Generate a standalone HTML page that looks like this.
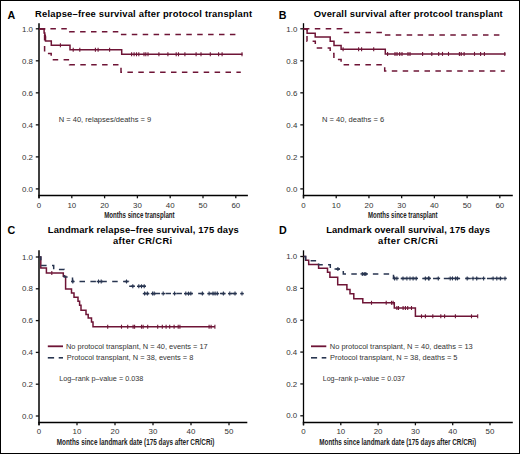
<!DOCTYPE html><html><head><meta charset="utf-8"><style>html,body{margin:0;padding:0;background:#fff;}svg{display:block;} text{font-family:"Liberation Sans", sans-serif;}</style></head><body>
<svg width="520" height="454" viewBox="0 0 520 454">
<rect x="0" y="0" width="520" height="454" fill="#fff"/>
<rect x="0.5" y="0.5" width="519" height="453" fill="none" stroke="#000" stroke-width="1"/>
<text x="7.5" y="18.6" font-size="10.7" text-anchor="start" font-weight="bold" fill="#000">A</text>
<text x="35.1" y="17.2" font-size="9.4" text-anchor="start" font-weight="bold" fill="#000" textLength="217" lengthAdjust="spacing">Relapse–free survival after protocol transplant</text>
<line x1="39.0" y1="23.2" x2="39.0" y2="198.3" stroke="#000" stroke-width="1.5"/>
<line x1="38.3" y1="195.5" x2="247.9" y2="195.5" stroke="#000" stroke-width="1.4"/>
<line x1="35.8" y1="28.80" x2="39.0" y2="28.80" stroke="#111" stroke-width="1.3"/>
<text x="33.0" y="31.80" font-size="7.9" text-anchor="end" font-weight="normal" fill="#333">1.0</text>
<line x1="35.8" y1="60.82" x2="39.0" y2="60.82" stroke="#111" stroke-width="1.3"/>
<text x="33.0" y="63.82" font-size="7.9" text-anchor="end" font-weight="normal" fill="#333">0.8</text>
<line x1="35.8" y1="92.84" x2="39.0" y2="92.84" stroke="#111" stroke-width="1.3"/>
<text x="33.0" y="95.84" font-size="7.9" text-anchor="end" font-weight="normal" fill="#333">0.6</text>
<line x1="35.8" y1="124.86" x2="39.0" y2="124.86" stroke="#111" stroke-width="1.3"/>
<text x="33.0" y="127.86" font-size="7.9" text-anchor="end" font-weight="normal" fill="#333">0.4</text>
<line x1="35.8" y1="156.88" x2="39.0" y2="156.88" stroke="#111" stroke-width="1.3"/>
<text x="33.0" y="159.88" font-size="7.9" text-anchor="end" font-weight="normal" fill="#333">0.2</text>
<line x1="35.8" y1="188.90" x2="39.0" y2="188.90" stroke="#111" stroke-width="1.3"/>
<text x="33.0" y="191.90" font-size="7.9" text-anchor="end" font-weight="normal" fill="#333">0.0</text>
<line x1="39.00" y1="195.5" x2="39.00" y2="198.3" stroke="#111" stroke-width="1.3"/>
<text x="39.00" y="207.50" font-size="7.9" text-anchor="middle" font-weight="normal" fill="#333">0</text>
<line x1="71.80" y1="195.5" x2="71.80" y2="198.3" stroke="#111" stroke-width="1.3"/>
<text x="71.80" y="207.50" font-size="7.9" text-anchor="middle" font-weight="normal" fill="#333">10</text>
<line x1="104.60" y1="195.5" x2="104.60" y2="198.3" stroke="#111" stroke-width="1.3"/>
<text x="104.60" y="207.50" font-size="7.9" text-anchor="middle" font-weight="normal" fill="#333">20</text>
<line x1="137.40" y1="195.5" x2="137.40" y2="198.3" stroke="#111" stroke-width="1.3"/>
<text x="137.40" y="207.50" font-size="7.9" text-anchor="middle" font-weight="normal" fill="#333">30</text>
<line x1="170.20" y1="195.5" x2="170.20" y2="198.3" stroke="#111" stroke-width="1.3"/>
<text x="170.20" y="207.50" font-size="7.9" text-anchor="middle" font-weight="normal" fill="#333">40</text>
<line x1="203.00" y1="195.5" x2="203.00" y2="198.3" stroke="#111" stroke-width="1.3"/>
<text x="203.00" y="207.50" font-size="7.9" text-anchor="middle" font-weight="normal" fill="#333">50</text>
<line x1="235.80" y1="195.5" x2="235.80" y2="198.3" stroke="#111" stroke-width="1.3"/>
<text x="235.80" y="207.50" font-size="7.9" text-anchor="middle" font-weight="normal" fill="#333">60</text>
<text x="104.2" y="217.5" font-size="9.8" text-anchor="start" font-weight="bold" fill="#222" textLength="70.4" lengthAdjust="spacingAndGlyphs">Months since transplant</text>
<text x="58.7" y="121.5" font-size="7.5" text-anchor="start" font-weight="normal" fill="#333" textLength="92.5" lengthAdjust="spacingAndGlyphs">N = 40, relapses/deaths = 9</text>
<path d="M39.0,28.8 H69.7 V31.8 H120.3 V34.6 H236" fill="none" stroke="#6e1436" stroke-width="1.5" stroke-dasharray="5.5 5.40" stroke-dashoffset="10.40"/>
<path d="M39.0,28.8 H44.6 V53.6 H51.2 V59.7 H69.6 V64.8 H121 V72.2 H240.8" fill="none" stroke="#6e1436" stroke-width="1.5" stroke-dasharray="5.5 5.40" stroke-dashoffset="9.90"/>
<path d="M39.0,28.9 H44.1 V32.9 H44.8 V36.9 H45.5 V41.1 H51.3 V45.3 H70 V49.8 H121.7 V54.3 H242.5" fill="none" stroke="#6e1436" stroke-width="1.5"/>
<line x1="45.5" y1="34.5" x2="45.5" y2="38.5" stroke="#6e1436" stroke-width="1.1"/>
<line x1="60.4" y1="43.3" x2="60.4" y2="47.3" stroke="#6e1436" stroke-width="1.1"/>
<line x1="73.2" y1="47.8" x2="73.2" y2="51.8" stroke="#6e1436" stroke-width="1.1"/>
<line x1="79.8" y1="47.8" x2="79.8" y2="51.8" stroke="#6e1436" stroke-width="1.1"/>
<line x1="95.4" y1="47.8" x2="95.4" y2="51.8" stroke="#6e1436" stroke-width="1.1"/>
<line x1="98.1" y1="47.8" x2="98.1" y2="51.8" stroke="#6e1436" stroke-width="1.1"/>
<line x1="109.6" y1="47.8" x2="109.6" y2="51.8" stroke="#6e1436" stroke-width="1.1"/>
<line x1="131.6" y1="52.3" x2="131.6" y2="56.3" stroke="#6e1436" stroke-width="1.1"/>
<line x1="134.1" y1="52.3" x2="134.1" y2="56.3" stroke="#6e1436" stroke-width="1.1"/>
<line x1="136.5" y1="52.3" x2="136.5" y2="56.3" stroke="#6e1436" stroke-width="1.1"/>
<line x1="138.8" y1="52.3" x2="138.8" y2="56.3" stroke="#6e1436" stroke-width="1.1"/>
<line x1="144" y1="52.3" x2="144" y2="56.3" stroke="#6e1436" stroke-width="1.1"/>
<line x1="145.8" y1="52.3" x2="145.8" y2="56.3" stroke="#6e1436" stroke-width="1.1"/>
<line x1="148" y1="52.3" x2="148" y2="56.3" stroke="#6e1436" stroke-width="1.1"/>
<line x1="158.9" y1="52.3" x2="158.9" y2="56.3" stroke="#6e1436" stroke-width="1.1"/>
<line x1="167.9" y1="52.3" x2="167.9" y2="56.3" stroke="#6e1436" stroke-width="1.1"/>
<line x1="176.2" y1="52.3" x2="176.2" y2="56.3" stroke="#6e1436" stroke-width="1.1"/>
<line x1="178.5" y1="52.3" x2="178.5" y2="56.3" stroke="#6e1436" stroke-width="1.1"/>
<line x1="184.9" y1="52.3" x2="184.9" y2="56.3" stroke="#6e1436" stroke-width="1.1"/>
<line x1="196.1" y1="52.3" x2="196.1" y2="56.3" stroke="#6e1436" stroke-width="1.1"/>
<line x1="201" y1="52.3" x2="201" y2="56.3" stroke="#6e1436" stroke-width="1.1"/>
<line x1="210.3" y1="52.3" x2="210.3" y2="56.3" stroke="#6e1436" stroke-width="1.1"/>
<line x1="218.6" y1="52.3" x2="218.6" y2="56.3" stroke="#6e1436" stroke-width="1.1"/>
<line x1="222.1" y1="52.3" x2="222.1" y2="56.3" stroke="#6e1436" stroke-width="1.1"/>
<line x1="242" y1="52.3" x2="242" y2="56.3" stroke="#6e1436" stroke-width="1.1"/>
<text x="278.7" y="18.6" font-size="10.7" text-anchor="start" font-weight="bold" fill="#000">B</text>
<text x="313.8" y="17.2" font-size="9.4" text-anchor="start" font-weight="bold" fill="#000" textLength="188.9" lengthAdjust="spacing">Overall survival after protcool transplant</text>
<line x1="303.5" y1="23.2" x2="303.5" y2="198.3" stroke="#000" stroke-width="1.3"/>
<line x1="302.8" y1="195.5" x2="512.8" y2="195.5" stroke="#000" stroke-width="1.4"/>
<line x1="300.3" y1="28.80" x2="303.5" y2="28.80" stroke="#111" stroke-width="1.3"/>
<text x="297.3" y="31.80" font-size="7.9" text-anchor="end" font-weight="normal" fill="#333">1.0</text>
<line x1="300.3" y1="60.82" x2="303.5" y2="60.82" stroke="#111" stroke-width="1.3"/>
<text x="297.3" y="63.82" font-size="7.9" text-anchor="end" font-weight="normal" fill="#333">0.8</text>
<line x1="300.3" y1="92.84" x2="303.5" y2="92.84" stroke="#111" stroke-width="1.3"/>
<text x="297.3" y="95.84" font-size="7.9" text-anchor="end" font-weight="normal" fill="#333">0.6</text>
<line x1="300.3" y1="124.86" x2="303.5" y2="124.86" stroke="#111" stroke-width="1.3"/>
<text x="297.3" y="127.86" font-size="7.9" text-anchor="end" font-weight="normal" fill="#333">0.4</text>
<line x1="300.3" y1="156.88" x2="303.5" y2="156.88" stroke="#111" stroke-width="1.3"/>
<text x="297.3" y="159.88" font-size="7.9" text-anchor="end" font-weight="normal" fill="#333">0.2</text>
<line x1="300.3" y1="188.90" x2="303.5" y2="188.90" stroke="#111" stroke-width="1.3"/>
<text x="297.3" y="191.90" font-size="7.9" text-anchor="end" font-weight="normal" fill="#333">0.0</text>
<line x1="303.50" y1="195.5" x2="303.50" y2="198.3" stroke="#111" stroke-width="1.3"/>
<text x="303.50" y="207.50" font-size="7.9" text-anchor="middle" font-weight="normal" fill="#333">0</text>
<line x1="336.22" y1="195.5" x2="336.22" y2="198.3" stroke="#111" stroke-width="1.3"/>
<text x="336.22" y="207.50" font-size="7.9" text-anchor="middle" font-weight="normal" fill="#333">10</text>
<line x1="368.94" y1="195.5" x2="368.94" y2="198.3" stroke="#111" stroke-width="1.3"/>
<text x="368.94" y="207.50" font-size="7.9" text-anchor="middle" font-weight="normal" fill="#333">20</text>
<line x1="401.66" y1="195.5" x2="401.66" y2="198.3" stroke="#111" stroke-width="1.3"/>
<text x="401.66" y="207.50" font-size="7.9" text-anchor="middle" font-weight="normal" fill="#333">30</text>
<line x1="434.38" y1="195.5" x2="434.38" y2="198.3" stroke="#111" stroke-width="1.3"/>
<text x="434.38" y="207.50" font-size="7.9" text-anchor="middle" font-weight="normal" fill="#333">40</text>
<line x1="467.10" y1="195.5" x2="467.10" y2="198.3" stroke="#111" stroke-width="1.3"/>
<text x="467.10" y="207.50" font-size="7.9" text-anchor="middle" font-weight="normal" fill="#333">50</text>
<line x1="499.82" y1="195.5" x2="499.82" y2="198.3" stroke="#111" stroke-width="1.3"/>
<text x="499.82" y="207.50" font-size="7.9" text-anchor="middle" font-weight="normal" fill="#333">60</text>
<text x="367.9" y="217.5" font-size="9.8" text-anchor="start" font-weight="bold" fill="#222" textLength="69.7" lengthAdjust="spacingAndGlyphs">Months since transplant</text>
<text x="321.9" y="121.5" font-size="7.5" text-anchor="start" font-weight="normal" fill="#333" textLength="62.3" lengthAdjust="spacingAndGlyphs">N = 40, deaths = 6</text>
<path d="M303.5,28.8 H341.6 V32.6 H383.8 V35 H499.6" fill="none" stroke="#6e1436" stroke-width="1.5" stroke-dasharray="5.5 5.40" stroke-dashoffset="10.50"/>
<path d="M303.5,28.8 H307 V41.2 H315.3 V48 H330.2 V53.5 H333.9 V59.5 H341.1 V64.7 H384.7 V71 H504.8" fill="none" stroke="#6e1436" stroke-width="1.5" stroke-dasharray="5.5 5.40" stroke-dashoffset="0.30"/>
<path d="M303.5,28.9 H307.1 V33.3 H315.2 V37.1 H330.2 V41.3 H334 V45.4 H341.1 V49.3 H385.3 V53.9 H505.6" fill="none" stroke="#6e1436" stroke-width="1.5"/>
<line x1="343.1" y1="47.3" x2="343.1" y2="51.3" stroke="#6e1436" stroke-width="1.1"/>
<line x1="358.6" y1="47.3" x2="358.6" y2="51.3" stroke="#6e1436" stroke-width="1.1"/>
<line x1="361.6" y1="47.3" x2="361.6" y2="51.3" stroke="#6e1436" stroke-width="1.1"/>
<line x1="373.7" y1="47.3" x2="373.7" y2="51.3" stroke="#6e1436" stroke-width="1.1"/>
<line x1="387.6" y1="51.9" x2="387.6" y2="55.9" stroke="#6e1436" stroke-width="1.1"/>
<line x1="395" y1="51.9" x2="395" y2="55.9" stroke="#6e1436" stroke-width="1.1"/>
<line x1="397" y1="51.9" x2="397" y2="55.9" stroke="#6e1436" stroke-width="1.1"/>
<line x1="399.7" y1="51.9" x2="399.7" y2="55.9" stroke="#6e1436" stroke-width="1.1"/>
<line x1="402" y1="51.9" x2="402" y2="55.9" stroke="#6e1436" stroke-width="1.1"/>
<line x1="408" y1="51.9" x2="408" y2="55.9" stroke="#6e1436" stroke-width="1.1"/>
<line x1="410" y1="51.9" x2="410" y2="55.9" stroke="#6e1436" stroke-width="1.1"/>
<line x1="422.6" y1="51.9" x2="422.6" y2="55.9" stroke="#6e1436" stroke-width="1.1"/>
<line x1="431.8" y1="51.9" x2="431.8" y2="55.9" stroke="#6e1436" stroke-width="1.1"/>
<line x1="438.7" y1="51.9" x2="438.7" y2="55.9" stroke="#6e1436" stroke-width="1.1"/>
<line x1="442.5" y1="51.9" x2="442.5" y2="55.9" stroke="#6e1436" stroke-width="1.1"/>
<line x1="448.5" y1="51.9" x2="448.5" y2="55.9" stroke="#6e1436" stroke-width="1.1"/>
<line x1="459.4" y1="51.9" x2="459.4" y2="55.9" stroke="#6e1436" stroke-width="1.1"/>
<line x1="461.2" y1="51.9" x2="461.2" y2="55.9" stroke="#6e1436" stroke-width="1.1"/>
<line x1="464.1" y1="51.9" x2="464.1" y2="55.9" stroke="#6e1436" stroke-width="1.1"/>
<line x1="474.5" y1="51.9" x2="474.5" y2="55.9" stroke="#6e1436" stroke-width="1.1"/>
<line x1="480.6" y1="51.9" x2="480.6" y2="55.9" stroke="#6e1436" stroke-width="1.1"/>
<line x1="484.4" y1="51.9" x2="484.4" y2="55.9" stroke="#6e1436" stroke-width="1.1"/>
<line x1="504.8" y1="51.9" x2="504.8" y2="55.9" stroke="#6e1436" stroke-width="1.1"/>
<text x="7.4" y="233.5" font-size="10.7" text-anchor="start" font-weight="bold" fill="#000">C</text>
<text x="143.3" y="233.1" font-size="9.4" text-anchor="middle" font-weight="bold" fill="#000" textLength="191" lengthAdjust="spacing">Landmark relapse–free survival, 175 days</text>
<text x="142.6" y="244.3" font-size="9.4" text-anchor="middle" font-weight="bold" fill="#000" textLength="59.2" lengthAdjust="spacing">after CR/CRi</text>
<line x1="39.0" y1="250.3" x2="39.0" y2="425.3" stroke="#000" stroke-width="1.5"/>
<line x1="38.3" y1="422.5" x2="247.3" y2="422.5" stroke="#000" stroke-width="1.4"/>
<line x1="35.8" y1="257.00" x2="39.0" y2="257.00" stroke="#111" stroke-width="1.3"/>
<text x="33.0" y="259.60" font-size="7.9" text-anchor="end" font-weight="normal" fill="#333">1.0</text>
<line x1="35.8" y1="288.80" x2="39.0" y2="288.80" stroke="#111" stroke-width="1.3"/>
<text x="33.0" y="291.40" font-size="7.9" text-anchor="end" font-weight="normal" fill="#333">0.8</text>
<line x1="35.8" y1="320.60" x2="39.0" y2="320.60" stroke="#111" stroke-width="1.3"/>
<text x="33.0" y="323.20" font-size="7.9" text-anchor="end" font-weight="normal" fill="#333">0.6</text>
<line x1="35.8" y1="352.40" x2="39.0" y2="352.40" stroke="#111" stroke-width="1.3"/>
<text x="33.0" y="355.00" font-size="7.9" text-anchor="end" font-weight="normal" fill="#333">0.4</text>
<line x1="35.8" y1="384.20" x2="39.0" y2="384.20" stroke="#111" stroke-width="1.3"/>
<text x="33.0" y="386.80" font-size="7.9" text-anchor="end" font-weight="normal" fill="#333">0.2</text>
<line x1="35.8" y1="416.00" x2="39.0" y2="416.00" stroke="#111" stroke-width="1.3"/>
<text x="33.0" y="418.60" font-size="7.9" text-anchor="end" font-weight="normal" fill="#333">0.0</text>
<line x1="39.00" y1="422.5" x2="39.00" y2="425.3" stroke="#111" stroke-width="1.3"/>
<text x="39.00" y="433.50" font-size="7.9" text-anchor="middle" font-weight="normal" fill="#333">0</text>
<line x1="77.00" y1="422.5" x2="77.00" y2="425.3" stroke="#111" stroke-width="1.3"/>
<text x="77.00" y="433.50" font-size="7.9" text-anchor="middle" font-weight="normal" fill="#333">10</text>
<line x1="115.00" y1="422.5" x2="115.00" y2="425.3" stroke="#111" stroke-width="1.3"/>
<text x="115.00" y="433.50" font-size="7.9" text-anchor="middle" font-weight="normal" fill="#333">20</text>
<line x1="153.00" y1="422.5" x2="153.00" y2="425.3" stroke="#111" stroke-width="1.3"/>
<text x="153.00" y="433.50" font-size="7.9" text-anchor="middle" font-weight="normal" fill="#333">30</text>
<line x1="191.00" y1="422.5" x2="191.00" y2="425.3" stroke="#111" stroke-width="1.3"/>
<text x="191.00" y="433.50" font-size="7.9" text-anchor="middle" font-weight="normal" fill="#333">40</text>
<line x1="229.00" y1="422.5" x2="229.00" y2="425.3" stroke="#111" stroke-width="1.3"/>
<text x="229.00" y="433.50" font-size="7.9" text-anchor="middle" font-weight="normal" fill="#333">50</text>
<text x="56.8" y="444.6" font-size="9.8" text-anchor="start" font-weight="bold" fill="#222" textLength="157.6" lengthAdjust="spacingAndGlyphs">Months since landmark date (175 days after CR/CRi)</text>
<path d="M39.0,257 H40.8 V268 H46.4 V272.9 H63.3 V276.2 H65.6 V288.9 H71.5 V292.9 H74 V297.2 H78 V301.3 H79.6 V305.3 H81 V310.3 H86 V314.6 H88.2 V318 H91.5 V322 H93 V326.7 H214.9" fill="none" stroke="#6e1436" stroke-width="1.5"/>
<path d="M39.0,257 H40.8 V265.4 H53.7 V269.4 H64.2 V277.1 H72.5 V281.5 H128.5 V286.3 H144.9 V293.6 H242" fill="none" stroke="#283550" stroke-width="1.5" stroke-dasharray="5.5 5.40" stroke-dashoffset="0.40"/>
<line x1="51.8" y1="270.9" x2="51.8" y2="274.9" stroke="#6e1436" stroke-width="1.1"/>
<line x1="107.7" y1="324.7" x2="107.7" y2="328.7" stroke="#6e1436" stroke-width="1.1"/>
<line x1="121.5" y1="324.7" x2="121.5" y2="328.7" stroke="#6e1436" stroke-width="1.1"/>
<line x1="127.7" y1="324.7" x2="127.7" y2="328.7" stroke="#6e1436" stroke-width="1.1"/>
<line x1="133.1" y1="324.7" x2="133.1" y2="328.7" stroke="#6e1436" stroke-width="1.1"/>
<line x1="134.6" y1="324.7" x2="134.6" y2="328.7" stroke="#6e1436" stroke-width="1.1"/>
<line x1="141.5" y1="324.7" x2="141.5" y2="328.7" stroke="#6e1436" stroke-width="1.1"/>
<line x1="143.1" y1="324.7" x2="143.1" y2="328.7" stroke="#6e1436" stroke-width="1.1"/>
<line x1="147.7" y1="324.7" x2="147.7" y2="328.7" stroke="#6e1436" stroke-width="1.1"/>
<line x1="157.7" y1="324.7" x2="157.7" y2="328.7" stroke="#6e1436" stroke-width="1.1"/>
<line x1="162.3" y1="324.7" x2="162.3" y2="328.7" stroke="#6e1436" stroke-width="1.1"/>
<line x1="166.1" y1="324.7" x2="166.1" y2="328.7" stroke="#6e1436" stroke-width="1.1"/>
<line x1="169.7" y1="324.7" x2="169.7" y2="328.7" stroke="#6e1436" stroke-width="1.1"/>
<line x1="174.1" y1="324.7" x2="174.1" y2="328.7" stroke="#6e1436" stroke-width="1.1"/>
<line x1="178.2" y1="324.7" x2="178.2" y2="328.7" stroke="#6e1436" stroke-width="1.1"/>
<line x1="179.9" y1="324.7" x2="179.9" y2="328.7" stroke="#6e1436" stroke-width="1.1"/>
<line x1="209.1" y1="324.7" x2="209.1" y2="328.7" stroke="#6e1436" stroke-width="1.1"/>
<line x1="211.1" y1="324.7" x2="211.1" y2="328.7" stroke="#6e1436" stroke-width="1.1"/>
<line x1="214.9" y1="324.7" x2="214.9" y2="328.7" stroke="#6e1436" stroke-width="1.1"/>
<line x1="72.8" y1="279.5" x2="72.8" y2="283.5" stroke="#283550" stroke-width="1.1"/>
<line x1="71.0" y1="281.5" x2="74.6" y2="281.5" stroke="#283550" stroke-width="1.5"/>
<line x1="98.5" y1="279.5" x2="98.5" y2="283.5" stroke="#283550" stroke-width="1.1"/>
<line x1="96.7" y1="281.5" x2="100.3" y2="281.5" stroke="#283550" stroke-width="1.5"/>
<line x1="101.2" y1="279.5" x2="101.2" y2="283.5" stroke="#283550" stroke-width="1.1"/>
<line x1="99.4" y1="281.5" x2="103.0" y2="281.5" stroke="#283550" stroke-width="1.5"/>
<line x1="126.5" y1="279.5" x2="126.5" y2="283.5" stroke="#283550" stroke-width="1.1"/>
<line x1="124.7" y1="281.5" x2="128.3" y2="281.5" stroke="#283550" stroke-width="1.5"/>
<line x1="132.8" y1="284.3" x2="132.8" y2="288.3" stroke="#283550" stroke-width="1.1"/>
<line x1="131.0" y1="286.3" x2="134.60000000000002" y2="286.3" stroke="#283550" stroke-width="1.5"/>
<line x1="138.8" y1="284.3" x2="138.8" y2="288.3" stroke="#283550" stroke-width="1.1"/>
<line x1="137.0" y1="286.3" x2="140.60000000000002" y2="286.3" stroke="#283550" stroke-width="1.5"/>
<line x1="141.5" y1="284.3" x2="141.5" y2="288.3" stroke="#283550" stroke-width="1.1"/>
<line x1="139.7" y1="286.3" x2="143.3" y2="286.3" stroke="#283550" stroke-width="1.5"/>
<line x1="144.2" y1="284.3" x2="144.2" y2="288.3" stroke="#283550" stroke-width="1.1"/>
<line x1="142.39999999999998" y1="286.3" x2="146.0" y2="286.3" stroke="#283550" stroke-width="1.5"/>
<line x1="144.6" y1="291.6" x2="144.6" y2="295.6" stroke="#283550" stroke-width="1.1"/>
<line x1="142.79999999999998" y1="293.6" x2="146.4" y2="293.6" stroke="#283550" stroke-width="1.5"/>
<line x1="147.4" y1="291.6" x2="147.4" y2="295.6" stroke="#283550" stroke-width="1.1"/>
<line x1="145.6" y1="293.6" x2="149.20000000000002" y2="293.6" stroke="#283550" stroke-width="1.5"/>
<line x1="152.6" y1="291.6" x2="152.6" y2="295.6" stroke="#283550" stroke-width="1.1"/>
<line x1="150.79999999999998" y1="293.6" x2="154.4" y2="293.6" stroke="#283550" stroke-width="1.5"/>
<line x1="154.2" y1="291.6" x2="154.2" y2="295.6" stroke="#283550" stroke-width="1.1"/>
<line x1="152.39999999999998" y1="293.6" x2="156.0" y2="293.6" stroke="#283550" stroke-width="1.5"/>
<line x1="163.2" y1="291.6" x2="163.2" y2="295.6" stroke="#283550" stroke-width="1.1"/>
<line x1="161.39999999999998" y1="293.6" x2="165.0" y2="293.6" stroke="#283550" stroke-width="1.5"/>
<line x1="174.6" y1="291.6" x2="174.6" y2="295.6" stroke="#283550" stroke-width="1.1"/>
<line x1="172.79999999999998" y1="293.6" x2="176.4" y2="293.6" stroke="#283550" stroke-width="1.5"/>
<line x1="185.8" y1="291.6" x2="185.8" y2="295.6" stroke="#283550" stroke-width="1.1"/>
<line x1="184.0" y1="293.6" x2="187.60000000000002" y2="293.6" stroke="#283550" stroke-width="1.5"/>
<line x1="188.5" y1="291.6" x2="188.5" y2="295.6" stroke="#283550" stroke-width="1.1"/>
<line x1="186.7" y1="293.6" x2="190.3" y2="293.6" stroke="#283550" stroke-width="1.5"/>
<line x1="190.8" y1="291.6" x2="190.8" y2="295.6" stroke="#283550" stroke-width="1.1"/>
<line x1="189.0" y1="293.6" x2="192.60000000000002" y2="293.6" stroke="#283550" stroke-width="1.5"/>
<line x1="202.4" y1="291.6" x2="202.4" y2="295.6" stroke="#283550" stroke-width="1.1"/>
<line x1="200.6" y1="293.6" x2="204.20000000000002" y2="293.6" stroke="#283550" stroke-width="1.5"/>
<line x1="209.1" y1="291.6" x2="209.1" y2="295.6" stroke="#283550" stroke-width="1.1"/>
<line x1="207.29999999999998" y1="293.6" x2="210.9" y2="293.6" stroke="#283550" stroke-width="1.5"/>
<line x1="213" y1="291.6" x2="213" y2="295.6" stroke="#283550" stroke-width="1.1"/>
<line x1="211.2" y1="293.6" x2="214.8" y2="293.6" stroke="#283550" stroke-width="1.5"/>
<line x1="215.1" y1="291.6" x2="215.1" y2="295.6" stroke="#283550" stroke-width="1.1"/>
<line x1="213.29999999999998" y1="293.6" x2="216.9" y2="293.6" stroke="#283550" stroke-width="1.5"/>
<line x1="217.3" y1="291.6" x2="217.3" y2="295.6" stroke="#283550" stroke-width="1.1"/>
<line x1="215.5" y1="293.6" x2="219.10000000000002" y2="293.6" stroke="#283550" stroke-width="1.5"/>
<line x1="223.4" y1="291.6" x2="223.4" y2="295.6" stroke="#283550" stroke-width="1.1"/>
<line x1="221.6" y1="293.6" x2="225.20000000000002" y2="293.6" stroke="#283550" stroke-width="1.5"/>
<line x1="229.8" y1="291.6" x2="229.8" y2="295.6" stroke="#283550" stroke-width="1.1"/>
<line x1="228.0" y1="293.6" x2="231.60000000000002" y2="293.6" stroke="#283550" stroke-width="1.5"/>
<line x1="235" y1="291.6" x2="235" y2="295.6" stroke="#283550" stroke-width="1.1"/>
<line x1="233.2" y1="293.6" x2="236.8" y2="293.6" stroke="#283550" stroke-width="1.5"/>
<line x1="242" y1="291.6" x2="242" y2="295.6" stroke="#283550" stroke-width="1.1"/>
<line x1="240.2" y1="293.6" x2="243.8" y2="293.6" stroke="#283550" stroke-width="1.5"/>
<line x1="47.8" y1="346.3" x2="63" y2="346.3" stroke="#6e1436" stroke-width="1.8"/>
<line x1="47.8" y1="357.8" x2="54.1" y2="357.8" stroke="#283550" stroke-width="1.6"/>
<line x1="58.7" y1="357.8" x2="63" y2="357.8" stroke="#283550" stroke-width="1.6"/>
<text x="66" y="349.2" font-size="7.5" text-anchor="start" font-weight="normal" fill="#333" textLength="141.7" lengthAdjust="spacingAndGlyphs">No protocol transplant, N = 40, events = 17</text>
<text x="66.8" y="359.9" font-size="7.5" text-anchor="start" font-weight="normal" fill="#333" textLength="126.5" lengthAdjust="spacingAndGlyphs">Protocol transplant, N = 38, events = 8</text>
<text x="59.2" y="381.3" font-size="7.3" text-anchor="start" font-weight="normal" fill="#333" textLength="84.1" lengthAdjust="spacingAndGlyphs">Log–rank p–value = 0.038</text>
<text x="278.9" y="233.5" font-size="10.7" text-anchor="start" font-weight="bold" fill="#000">D</text>
<text x="408.0" y="233.1" font-size="9.4" text-anchor="middle" font-weight="bold" fill="#000" textLength="163.7" lengthAdjust="spacing">Landmark overall survival, 175 days</text>
<text x="408.0" y="244.3" font-size="9.4" text-anchor="middle" font-weight="bold" fill="#000" textLength="59.9" lengthAdjust="spacing">after CR/CRi</text>
<line x1="303.5" y1="250.3" x2="303.5" y2="425.3" stroke="#000" stroke-width="1.3"/>
<line x1="302.8" y1="422.5" x2="512.8" y2="422.5" stroke="#000" stroke-width="1.4"/>
<line x1="300.3" y1="256.50" x2="303.5" y2="256.50" stroke="#111" stroke-width="1.3"/>
<text x="297.2" y="259.10" font-size="7.9" text-anchor="end" font-weight="normal" fill="#333">1.0</text>
<line x1="300.3" y1="288.36" x2="303.5" y2="288.36" stroke="#111" stroke-width="1.3"/>
<text x="297.2" y="290.96" font-size="7.9" text-anchor="end" font-weight="normal" fill="#333">0.8</text>
<line x1="300.3" y1="320.22" x2="303.5" y2="320.22" stroke="#111" stroke-width="1.3"/>
<text x="297.2" y="322.82" font-size="7.9" text-anchor="end" font-weight="normal" fill="#333">0.6</text>
<line x1="300.3" y1="352.08" x2="303.5" y2="352.08" stroke="#111" stroke-width="1.3"/>
<text x="297.2" y="354.68" font-size="7.9" text-anchor="end" font-weight="normal" fill="#333">0.4</text>
<line x1="300.3" y1="383.94" x2="303.5" y2="383.94" stroke="#111" stroke-width="1.3"/>
<text x="297.2" y="386.54" font-size="7.9" text-anchor="end" font-weight="normal" fill="#333">0.2</text>
<line x1="300.3" y1="415.80" x2="303.5" y2="415.80" stroke="#111" stroke-width="1.3"/>
<text x="297.2" y="418.40" font-size="7.9" text-anchor="end" font-weight="normal" fill="#333">0.0</text>
<line x1="303.50" y1="422.5" x2="303.50" y2="425.3" stroke="#111" stroke-width="1.3"/>
<text x="303.50" y="433.50" font-size="7.9" text-anchor="middle" font-weight="normal" fill="#333">0</text>
<line x1="340.80" y1="422.5" x2="340.80" y2="425.3" stroke="#111" stroke-width="1.3"/>
<text x="340.80" y="433.50" font-size="7.9" text-anchor="middle" font-weight="normal" fill="#333">10</text>
<line x1="378.10" y1="422.5" x2="378.10" y2="425.3" stroke="#111" stroke-width="1.3"/>
<text x="378.10" y="433.50" font-size="7.9" text-anchor="middle" font-weight="normal" fill="#333">20</text>
<line x1="415.40" y1="422.5" x2="415.40" y2="425.3" stroke="#111" stroke-width="1.3"/>
<text x="415.40" y="433.50" font-size="7.9" text-anchor="middle" font-weight="normal" fill="#333">30</text>
<line x1="452.70" y1="422.5" x2="452.70" y2="425.3" stroke="#111" stroke-width="1.3"/>
<text x="452.70" y="433.50" font-size="7.9" text-anchor="middle" font-weight="normal" fill="#333">40</text>
<line x1="490.00" y1="422.5" x2="490.00" y2="425.3" stroke="#111" stroke-width="1.3"/>
<text x="490.00" y="433.50" font-size="7.9" text-anchor="middle" font-weight="normal" fill="#333">50</text>
<text x="319.3" y="444.6" font-size="9.8" text-anchor="start" font-weight="bold" fill="#222" textLength="156.9" lengthAdjust="spacingAndGlyphs">Months since landmark date (175 days after CR/CRi)</text>
<path d="M303.5,256.5 H305.6 V260.2 H308.7 V264.4 H318.6 V268.3 H327.5 V272.3 H329.9 V277.3 H337.7 V284.7 H346.9 V289.5 H350 V293.8 H353.8 V298.8 H362.8 V302.8 H394.3 V308 H415.4 V316.3 H477.7" fill="none" stroke="#6e1436" stroke-width="1.5"/>
<path d="M303.5,256.5 H305.6 V260.7 H318.6 V264.8 H330.3 V269.1 H343.3 V273.9 H393.5 V278.4 H505" fill="none" stroke="#283550" stroke-width="1.5" stroke-dasharray="5.5 5.28" stroke-dashoffset="10.26"/>
<line x1="371.5" y1="300.8" x2="371.5" y2="304.8" stroke="#6e1436" stroke-width="1.1"/>
<line x1="386.2" y1="300.8" x2="386.2" y2="304.8" stroke="#6e1436" stroke-width="1.1"/>
<line x1="391.5" y1="300.8" x2="391.5" y2="304.8" stroke="#6e1436" stroke-width="1.1"/>
<line x1="393.1" y1="300.8" x2="393.1" y2="304.8" stroke="#6e1436" stroke-width="1.1"/>
<line x1="396.9" y1="306.0" x2="396.9" y2="310.0" stroke="#6e1436" stroke-width="1.1"/>
<line x1="398.5" y1="306.0" x2="398.5" y2="310.0" stroke="#6e1436" stroke-width="1.1"/>
<line x1="403.1" y1="306.0" x2="403.1" y2="310.0" stroke="#6e1436" stroke-width="1.1"/>
<line x1="405.4" y1="306.0" x2="405.4" y2="310.0" stroke="#6e1436" stroke-width="1.1"/>
<line x1="407.7" y1="306.0" x2="407.7" y2="310.0" stroke="#6e1436" stroke-width="1.1"/>
<line x1="411.5" y1="306.0" x2="411.5" y2="310.0" stroke="#6e1436" stroke-width="1.1"/>
<line x1="421.5" y1="314.3" x2="421.5" y2="318.3" stroke="#6e1436" stroke-width="1.1"/>
<line x1="425.4" y1="314.3" x2="425.4" y2="318.3" stroke="#6e1436" stroke-width="1.1"/>
<line x1="432.8" y1="314.3" x2="432.8" y2="318.3" stroke="#6e1436" stroke-width="1.1"/>
<line x1="440.8" y1="314.3" x2="440.8" y2="318.3" stroke="#6e1436" stroke-width="1.1"/>
<line x1="444.6" y1="314.3" x2="444.6" y2="318.3" stroke="#6e1436" stroke-width="1.1"/>
<line x1="455.4" y1="314.3" x2="455.4" y2="318.3" stroke="#6e1436" stroke-width="1.1"/>
<line x1="471.5" y1="314.3" x2="471.5" y2="318.3" stroke="#6e1436" stroke-width="1.1"/>
<line x1="477.7" y1="314.3" x2="477.7" y2="318.3" stroke="#6e1436" stroke-width="1.1"/>
<line x1="337.9" y1="267.1" x2="337.9" y2="271.1" stroke="#283550" stroke-width="1.1"/>
<line x1="336.09999999999997" y1="269.1" x2="339.7" y2="269.1" stroke="#283550" stroke-width="1.5"/>
<line x1="362.3" y1="271.9" x2="362.3" y2="275.9" stroke="#283550" stroke-width="1.1"/>
<line x1="360.5" y1="273.9" x2="364.1" y2="273.9" stroke="#283550" stroke-width="1.5"/>
<line x1="364.2" y1="271.9" x2="364.2" y2="275.9" stroke="#283550" stroke-width="1.1"/>
<line x1="362.4" y1="273.9" x2="366.0" y2="273.9" stroke="#283550" stroke-width="1.5"/>
<line x1="365.8" y1="271.9" x2="365.8" y2="275.9" stroke="#283550" stroke-width="1.1"/>
<line x1="364.0" y1="273.9" x2="367.6" y2="273.9" stroke="#283550" stroke-width="1.5"/>
<line x1="394.6" y1="276.4" x2="394.6" y2="280.4" stroke="#283550" stroke-width="1.1"/>
<line x1="392.8" y1="278.4" x2="396.40000000000003" y2="278.4" stroke="#283550" stroke-width="1.5"/>
<line x1="396.9" y1="276.4" x2="396.9" y2="280.4" stroke="#283550" stroke-width="1.1"/>
<line x1="395.09999999999997" y1="278.4" x2="398.7" y2="278.4" stroke="#283550" stroke-width="1.5"/>
<line x1="403" y1="276.4" x2="403" y2="280.4" stroke="#283550" stroke-width="1.1"/>
<line x1="401.2" y1="278.4" x2="404.8" y2="278.4" stroke="#283550" stroke-width="1.5"/>
<line x1="406.9" y1="276.4" x2="406.9" y2="280.4" stroke="#283550" stroke-width="1.1"/>
<line x1="405.09999999999997" y1="278.4" x2="408.7" y2="278.4" stroke="#283550" stroke-width="1.5"/>
<line x1="410" y1="276.4" x2="410" y2="280.4" stroke="#283550" stroke-width="1.1"/>
<line x1="408.2" y1="278.4" x2="411.8" y2="278.4" stroke="#283550" stroke-width="1.5"/>
<line x1="413.1" y1="276.4" x2="413.1" y2="280.4" stroke="#283550" stroke-width="1.1"/>
<line x1="411.3" y1="278.4" x2="414.90000000000003" y2="278.4" stroke="#283550" stroke-width="1.5"/>
<line x1="416.2" y1="276.4" x2="416.2" y2="280.4" stroke="#283550" stroke-width="1.1"/>
<line x1="414.4" y1="278.4" x2="418.0" y2="278.4" stroke="#283550" stroke-width="1.5"/>
<line x1="425.4" y1="276.4" x2="425.4" y2="280.4" stroke="#283550" stroke-width="1.1"/>
<line x1="423.59999999999997" y1="278.4" x2="427.2" y2="278.4" stroke="#283550" stroke-width="1.5"/>
<line x1="428.5" y1="276.4" x2="428.5" y2="280.4" stroke="#283550" stroke-width="1.1"/>
<line x1="426.7" y1="278.4" x2="430.3" y2="278.4" stroke="#283550" stroke-width="1.5"/>
<line x1="429.1" y1="276.4" x2="429.1" y2="280.4" stroke="#283550" stroke-width="1.1"/>
<line x1="427.3" y1="278.4" x2="430.90000000000003" y2="278.4" stroke="#283550" stroke-width="1.5"/>
<line x1="438.3" y1="276.4" x2="438.3" y2="280.4" stroke="#283550" stroke-width="1.1"/>
<line x1="436.5" y1="278.4" x2="440.1" y2="278.4" stroke="#283550" stroke-width="1.5"/>
<line x1="450.2" y1="276.4" x2="450.2" y2="280.4" stroke="#283550" stroke-width="1.1"/>
<line x1="448.4" y1="278.4" x2="452.0" y2="278.4" stroke="#283550" stroke-width="1.5"/>
<line x1="452.5" y1="276.4" x2="452.5" y2="280.4" stroke="#283550" stroke-width="1.1"/>
<line x1="450.7" y1="278.4" x2="454.3" y2="278.4" stroke="#283550" stroke-width="1.5"/>
<line x1="455.6" y1="276.4" x2="455.6" y2="280.4" stroke="#283550" stroke-width="1.1"/>
<line x1="453.8" y1="278.4" x2="457.40000000000003" y2="278.4" stroke="#283550" stroke-width="1.5"/>
<line x1="457.5" y1="276.4" x2="457.5" y2="280.4" stroke="#283550" stroke-width="1.1"/>
<line x1="455.7" y1="278.4" x2="459.3" y2="278.4" stroke="#283550" stroke-width="1.5"/>
<line x1="467.2" y1="276.4" x2="467.2" y2="280.4" stroke="#283550" stroke-width="1.1"/>
<line x1="465.4" y1="278.4" x2="469.0" y2="278.4" stroke="#283550" stroke-width="1.5"/>
<line x1="473" y1="276.4" x2="473" y2="280.4" stroke="#283550" stroke-width="1.1"/>
<line x1="471.2" y1="278.4" x2="474.8" y2="278.4" stroke="#283550" stroke-width="1.5"/>
<line x1="476.7" y1="276.4" x2="476.7" y2="280.4" stroke="#283550" stroke-width="1.1"/>
<line x1="474.9" y1="278.4" x2="478.5" y2="278.4" stroke="#283550" stroke-width="1.5"/>
<line x1="483.6" y1="276.4" x2="483.6" y2="280.4" stroke="#283550" stroke-width="1.1"/>
<line x1="481.8" y1="278.4" x2="485.40000000000003" y2="278.4" stroke="#283550" stroke-width="1.5"/>
<line x1="493.1" y1="276.4" x2="493.1" y2="280.4" stroke="#283550" stroke-width="1.1"/>
<line x1="491.3" y1="278.4" x2="494.90000000000003" y2="278.4" stroke="#283550" stroke-width="1.5"/>
<line x1="496.8" y1="276.4" x2="496.8" y2="280.4" stroke="#283550" stroke-width="1.1"/>
<line x1="495.0" y1="278.4" x2="498.6" y2="278.4" stroke="#283550" stroke-width="1.5"/>
<line x1="500.4" y1="276.4" x2="500.4" y2="280.4" stroke="#283550" stroke-width="1.1"/>
<line x1="498.59999999999997" y1="278.4" x2="502.2" y2="278.4" stroke="#283550" stroke-width="1.5"/>
<line x1="505" y1="276.4" x2="505" y2="280.4" stroke="#283550" stroke-width="1.1"/>
<line x1="503.2" y1="278.4" x2="506.8" y2="278.4" stroke="#283550" stroke-width="1.5"/>
<line x1="311" y1="346.3" x2="326.3" y2="346.3" stroke="#6e1436" stroke-width="1.8"/>
<line x1="311" y1="357.8" x2="317.1" y2="357.8" stroke="#283550" stroke-width="1.6"/>
<line x1="321.7" y1="357.8" x2="326.3" y2="357.8" stroke="#283550" stroke-width="1.6"/>
<text x="329.8" y="349.2" font-size="7.5" text-anchor="start" font-weight="normal" fill="#333" textLength="143" lengthAdjust="spacingAndGlyphs">No protocol transplant, N = 40, deaths = 13</text>
<text x="330.1" y="359.9" font-size="7.5" text-anchor="start" font-weight="normal" fill="#333" textLength="127.4" lengthAdjust="spacingAndGlyphs">Protocol transplant, N = 38, deaths = 5</text>
<text x="322.7" y="381.4" font-size="7.3" text-anchor="start" font-weight="normal" fill="#333" textLength="82.3" lengthAdjust="spacingAndGlyphs">Log–rank p–value = 0.037</text>
</svg></body></html>
